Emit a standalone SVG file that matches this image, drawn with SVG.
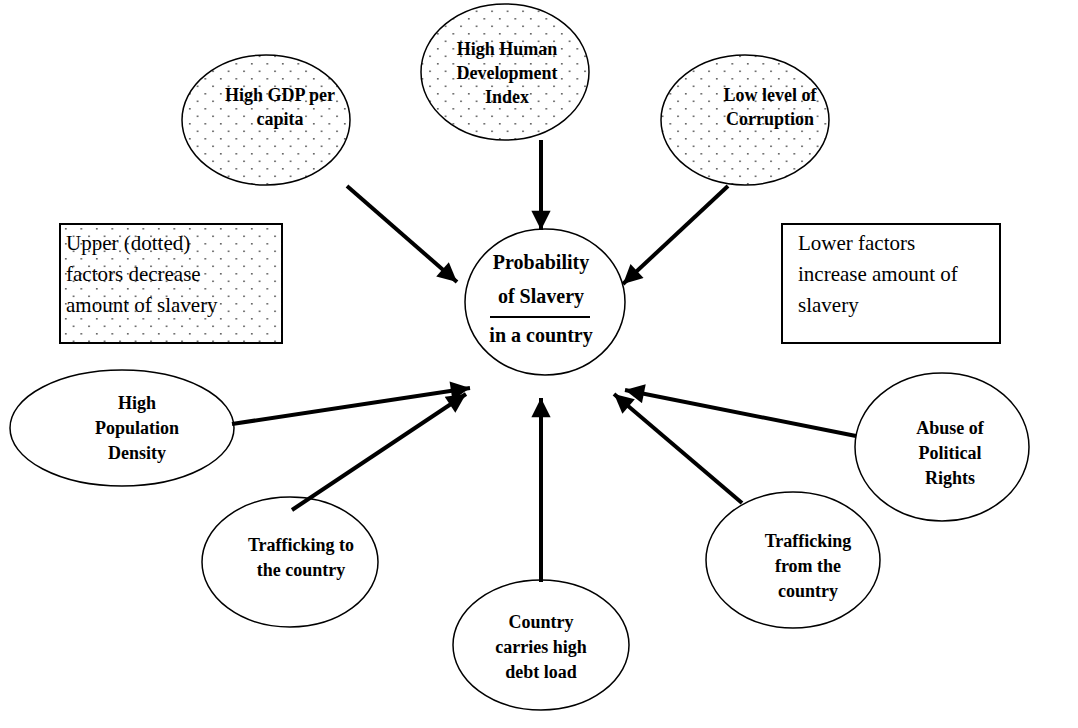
<svg xmlns="http://www.w3.org/2000/svg" width="1078" height="728" viewBox="0 0 1078 728">
<defs>
<pattern id="dots" x="0" y="0" width="15.5" height="15" patternUnits="userSpaceOnUse">
<rect x="3" y="3" width="1.6" height="1.6" fill="#555"/>
<rect x="10.75" y="10.5" width="1.6" height="1.6" fill="#555"/>
</pattern>
<marker id="ah" viewBox="0 0 10 10" refX="10" refY="5" markerWidth="5.5" markerHeight="4.8" orient="auto" markerUnits="strokeWidth">
<path d="M0,0 L10,5 L0,10 Z" fill="#000"/>
</marker>
<style>
.node{fill:#fff;stroke:#000;stroke-width:1.5}
.dotted{fill:url(#dots);stroke:#000;stroke-width:1.5}
.box{fill:#fff;stroke:#000;stroke-width:2}
.lbl{font-family:"Liberation Serif","Times New Roman",serif;font-weight:bold;font-size:18px;text-anchor:middle;fill:#000}
.big{font-size:20px}
.note{font-family:"Liberation Serif","Times New Roman",serif;font-size:21px;fill:#000}
.conn{stroke:#000;stroke-width:4;fill:none;marker-end:url(#ah)}
</style>
</defs>
<rect width="1078" height="728" fill="#fff"/>

<g id="note-upper">
<rect x="60" y="224" width="222" height="119" class="box"/>
<rect x="60" y="224" width="222" height="119" fill="url(#dots)"/>
<text class="note" x="66" y="250">Upper (dotted)</text>
<text class="note" x="66" y="281">factors decrease</text>
<text class="note" x="66" y="312">amount of slavery</text>
</g>

<g id="note-lower">
<rect x="782" y="224" width="218" height="119" class="box"/>
<text class="note" x="798" y="250">Lower factors</text>
<text class="note" x="798" y="281">increase amount of</text>
<text class="note" x="798" y="312">slavery</text>
</g>

<g id="gdp">
<ellipse cx="266" cy="120" rx="84" ry="65" fill="#fff" stroke="none"/>
<ellipse cx="266" cy="120" rx="84" ry="65" class="dotted"/>
<text class="lbl" x="280" y="101">High GDP per</text>
<text class="lbl" x="280" y="125">capita</text>
</g>

<g id="hdi">
<ellipse cx="505" cy="72" rx="84" ry="68" fill="#fff" stroke="none"/>
<ellipse cx="505" cy="72" rx="84" ry="68" class="dotted"/>
<text class="lbl" x="507" y="55">High Human</text>
<text class="lbl" x="507" y="79">Development</text>
<text class="lbl" x="507" y="103">Index</text>
</g>

<g id="corruption">
<ellipse cx="745" cy="120" rx="84" ry="65" fill="#fff" stroke="none"/>
<ellipse cx="745" cy="120" rx="84" ry="65" class="dotted"/>
<text class="lbl" x="770" y="101">Low level of</text>
<text class="lbl" x="770" y="125">Corruption</text>
</g>

<g id="center">
<ellipse cx="545" cy="302" rx="80" ry="73" class="node"/>
<text class="lbl big" x="541" y="269">Probability</text>
<text class="lbl big" x="541" y="303">of Slavery</text>
<line x1="490" y1="317" x2="590" y2="317" stroke="#000" stroke-width="2"/>
<text class="lbl big" x="541" y="342">in a country</text>
</g>

<g id="density">
<ellipse cx="122" cy="428" rx="112" ry="58" class="node"/>
<text class="lbl" x="137" y="409">High</text>
<text class="lbl" x="137" y="434">Population</text>
<text class="lbl" x="137" y="459">Density</text>
</g>

<g id="traffic-to">
<ellipse cx="290" cy="562" rx="88" ry="65" class="node"/>
<text class="lbl" x="301" y="551">Trafficking to</text>
<text class="lbl" x="301" y="576">the country</text>
</g>

<g id="debt">
<ellipse cx="541" cy="645" rx="88" ry="65" class="node"/>
<text class="lbl" x="541" y="628">Country</text>
<text class="lbl" x="541" y="653">carries high</text>
<text class="lbl" x="541" y="678">debt load</text>
</g>

<g id="traffic-from">
<ellipse cx="793" cy="560" rx="87" ry="68" class="node"/>
<text class="lbl" x="808" y="547">Trafficking</text>
<text class="lbl" x="808" y="572">from the</text>
<text class="lbl" x="808" y="597">country</text>
</g>

<g id="abuse">
<ellipse cx="942" cy="447" rx="87" ry="74" class="node"/>
<text class="lbl" x="950" y="434">Abuse of</text>
<text class="lbl" x="950" y="459">Political</text>
<text class="lbl" x="950" y="484">Rights</text>
</g>

<g id="connectors">
<line class="conn" x1="347" y1="186" x2="457" y2="282"/>
<line class="conn" x1="541" y1="140" x2="541" y2="230"/>
<line class="conn" x1="728" y1="186" x2="623" y2="284"/>
<line class="conn" x1="232" y1="424" x2="470" y2="388"/>
<line class="conn" x1="292" y1="510" x2="466" y2="394"/>
<line class="conn" x1="541" y1="582" x2="541" y2="398"/>
<line class="conn" x1="742" y1="503" x2="614" y2="394"/>
<line class="conn" x1="856" y1="436" x2="625" y2="390"/>
</g>
</svg>
